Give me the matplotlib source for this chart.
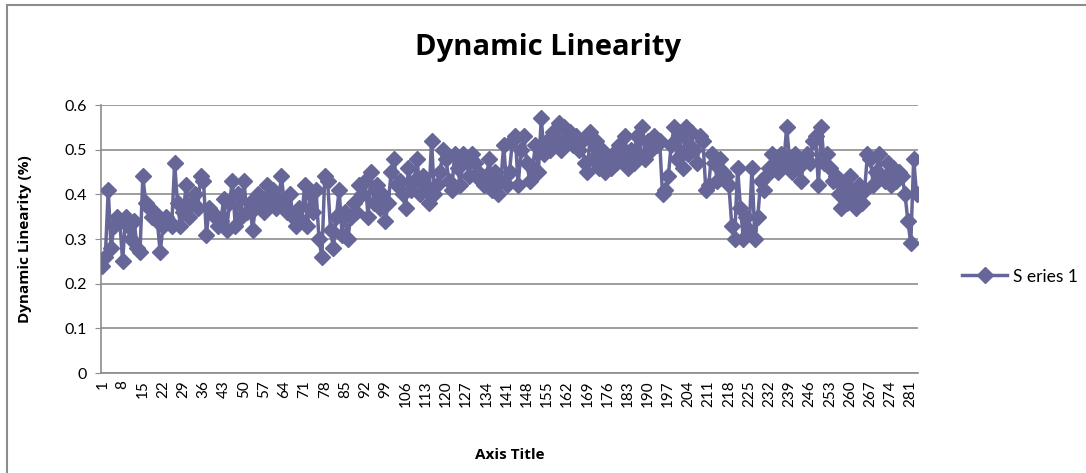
import matplotlib
matplotlib.use("Agg")
import matplotlib.pyplot as plt
from matplotlib.patches import Rectangle

plt.rcParams["font.family"] = ["Lato", "DejaVu Sans"]

# Dynamic linearity readings (categories 1..283)
values_a = [0.24, 0.26, 0.41, 0.28, 0.33, 0.35, 0.34, 0.25, 0.35, 0.33, 0.30, 0.34, 0.28, 0.27,
            0.44, 0.38, 0.37, 0.35, 0.36, 0.34, 0.27, 0.33, 0.35, 0.34, 0.33,
            0.47, 0.38, 0.33, 0.36, 0.42, 0.35, 0.38, 0.40, 0.37, 0.44, 0.43, 0.31,
            0.37, 0.36, 0.35, 0.33, 0.34, 0.39, 0.32, 0.38, 0.43, 0.33, 0.40,
            0.35, 0.43, 0.36, 0.38, 0.32, 0.37, 0.40, 0.38, 0.36, 0.42, 0.38, 0.41,
            0.37, 0.39, 0.44, 0.38, 0.36, 0.40, 0.35, 0.33, 0.37, 0.34, 0.42, 0.33]
values_b = [0.40, 0.36, 0.41, 0.30, 0.26, 0.44, 0.43, 0.32, 0.28, 0.35,
            0.41, 0.31, 0.36, 0.30, 0.35, 0.38, 0.36, 0.42, 0.40, 0.43,
            0.35, 0.45, 0.38, 0.42, 0.37, 0.40, 0.34, 0.38, 0.45, 0.48, 0.42,
            0.43, 0.40, 0.37, 0.46, 0.41, 0.43, 0.48, 0.40, 0.44, 0.42, 0.38, 0.52,
            0.40, 0.42, 0.45, 0.50, 0.48, 0.43, 0.41, 0.49, 0.46, 0.42, 0.49, 0.48,
            0.44, 0.49, 0.47, 0.45, 0.43, 0.42, 0.44, 0.48, 0.41, 0.45, 0.40, 0.43]
values_c = [0.51, 0.42, 0.45, 0.52, 0.53, 0.42, 0.50, 0.53, 0.47, 0.43, 0.46, 0.51,
            0.45, 0.57, 0.49, 0.52, 0.50, 0.54, 0.51, 0.56, 0.50, 0.55, 0.52, 0.54,
            0.51, 0.53, 0.50, 0.52, 0.47, 0.45, 0.54, 0.48, 0.52, 0.46, 0.50, 0.45,
            0.48, 0.46, 0.49, 0.47, 0.51, 0.48, 0.53, 0.46, 0.50, 0.47, 0.53, 0.49,
            0.55, 0.48, 0.52, 0.50, 0.53, 0.51, 0.52, 0.40, 0.41, 0.44, 0.51,
            0.55, 0.48, 0.53, 0.46, 0.55, 0.49, 0.54, 0.50, 0.47, 0.53, 0.52, 0.41]
values_d = [0.42, 0.49, 0.47, 0.43, 0.48, 0.45, 0.44, 0.42, 0.33, 0.30, 0.46, 0.37,
            0.30, 0.35, 0.32, 0.46, 0.30, 0.35, 0.43, 0.41, 0.44, 0.46, 0.49, 0.47,
            0.45, 0.49, 0.47, 0.55, 0.48, 0.45, 0.49, 0.46, 0.43, 0.48, 0.49, 0.47,
            0.52, 0.53, 0.42, 0.55, 0.47, 0.49, 0.46, 0.43, 0.44, 0.40, 0.37, 0.42,
            0.38, 0.44, 0.40, 0.37, 0.42, 0.38, 0.41, 0.49, 0.48, 0.42, 0.45, 0.49,
            0.44, 0.43, 0.47, 0.42, 0.46, 0.43, 0.45, 0.44, 0.40, 0.34, 0.29, 0.48, 0.40]
values = values_a + values_b + values_c + values_d
categories = list(range(1, len(values) + 1))
tick_cats = categories[::7]
y_ticks = [0, 0.1, 0.2, 0.3, 0.4, 0.5, 0.6]
y_labels = ["0", "0.1", "0.2", "0.3", "0.4", "0.5", "0.6"]

color = "#666699"
W, H = 1086, 473
fig = plt.figure(figsize=(W / 100, H / 100), dpi=100)
fig.patches.append(Rectangle((7 / W, -0.05), 1.2, (H - 5) / H + 0.05,
                             transform=fig.transFigure, fill=False,
                             edgecolor="#8c8c8c", linewidth=1.5))

ax = fig.add_axes([101 / W, 1 - 373 / H, 817 / W, 268 / H])
ax.plot(categories, values, color=color, linewidth=2.5, marker="D",
        markersize=8, markeredgecolor=color, markerfacecolor=color,
        label="S eries 1", zorder=3)

ax.set_xlim(0.5, len(values) + 0.5)
ax.set_ylim(0, 0.6)
ax.set_yticks(y_ticks)
ax.set_yticklabels(y_labels, fontsize=11.5)
ax.set_xticks(tick_cats)
ax.set_xticklabels([str(c) for c in tick_cats], rotation=90, fontsize=11)
ax.grid(axis="y", color="#8c8c8c", linewidth=1.2)
ax.set_axisbelow(True)
for side in ("top", "right"):
    ax.spines[side].set_visible(False)
for side in ("left", "bottom"):
    ax.spines[side].set_color("#8c8c8c")
    ax.spines[side].set_linewidth(1.2)
ax.tick_params(axis="y", length=4, color="#8c8c8c", pad=6)
ax.tick_params(axis="x", length=0, pad=5)

bold = ["Open Sans", "DejaVu Sans"]
fig.text(548 / W, 1 - 47 / H, "Dynamic Linearity", ha="center", va="center",
         fontsize=21, fontweight="bold", family=bold)
fig.text(25 / W, 1 - 239 / H, "Dynamic Linearity (%)", ha="center", va="center",
         rotation=90, fontsize=11, fontweight="bold", family=bold)
fig.text(510 / W, 1 - 455 / H, "Axis Title", ha="center", va="center",
         fontsize=11, fontweight="bold", family=bold)

ax.legend(loc="center left", bbox_to_anchor=(1.035, 0.36), frameon=False,
          fontsize=12.5, handlelength=2.6, handletextpad=0.3)

fig.savefig("out.png", dpi=100)
